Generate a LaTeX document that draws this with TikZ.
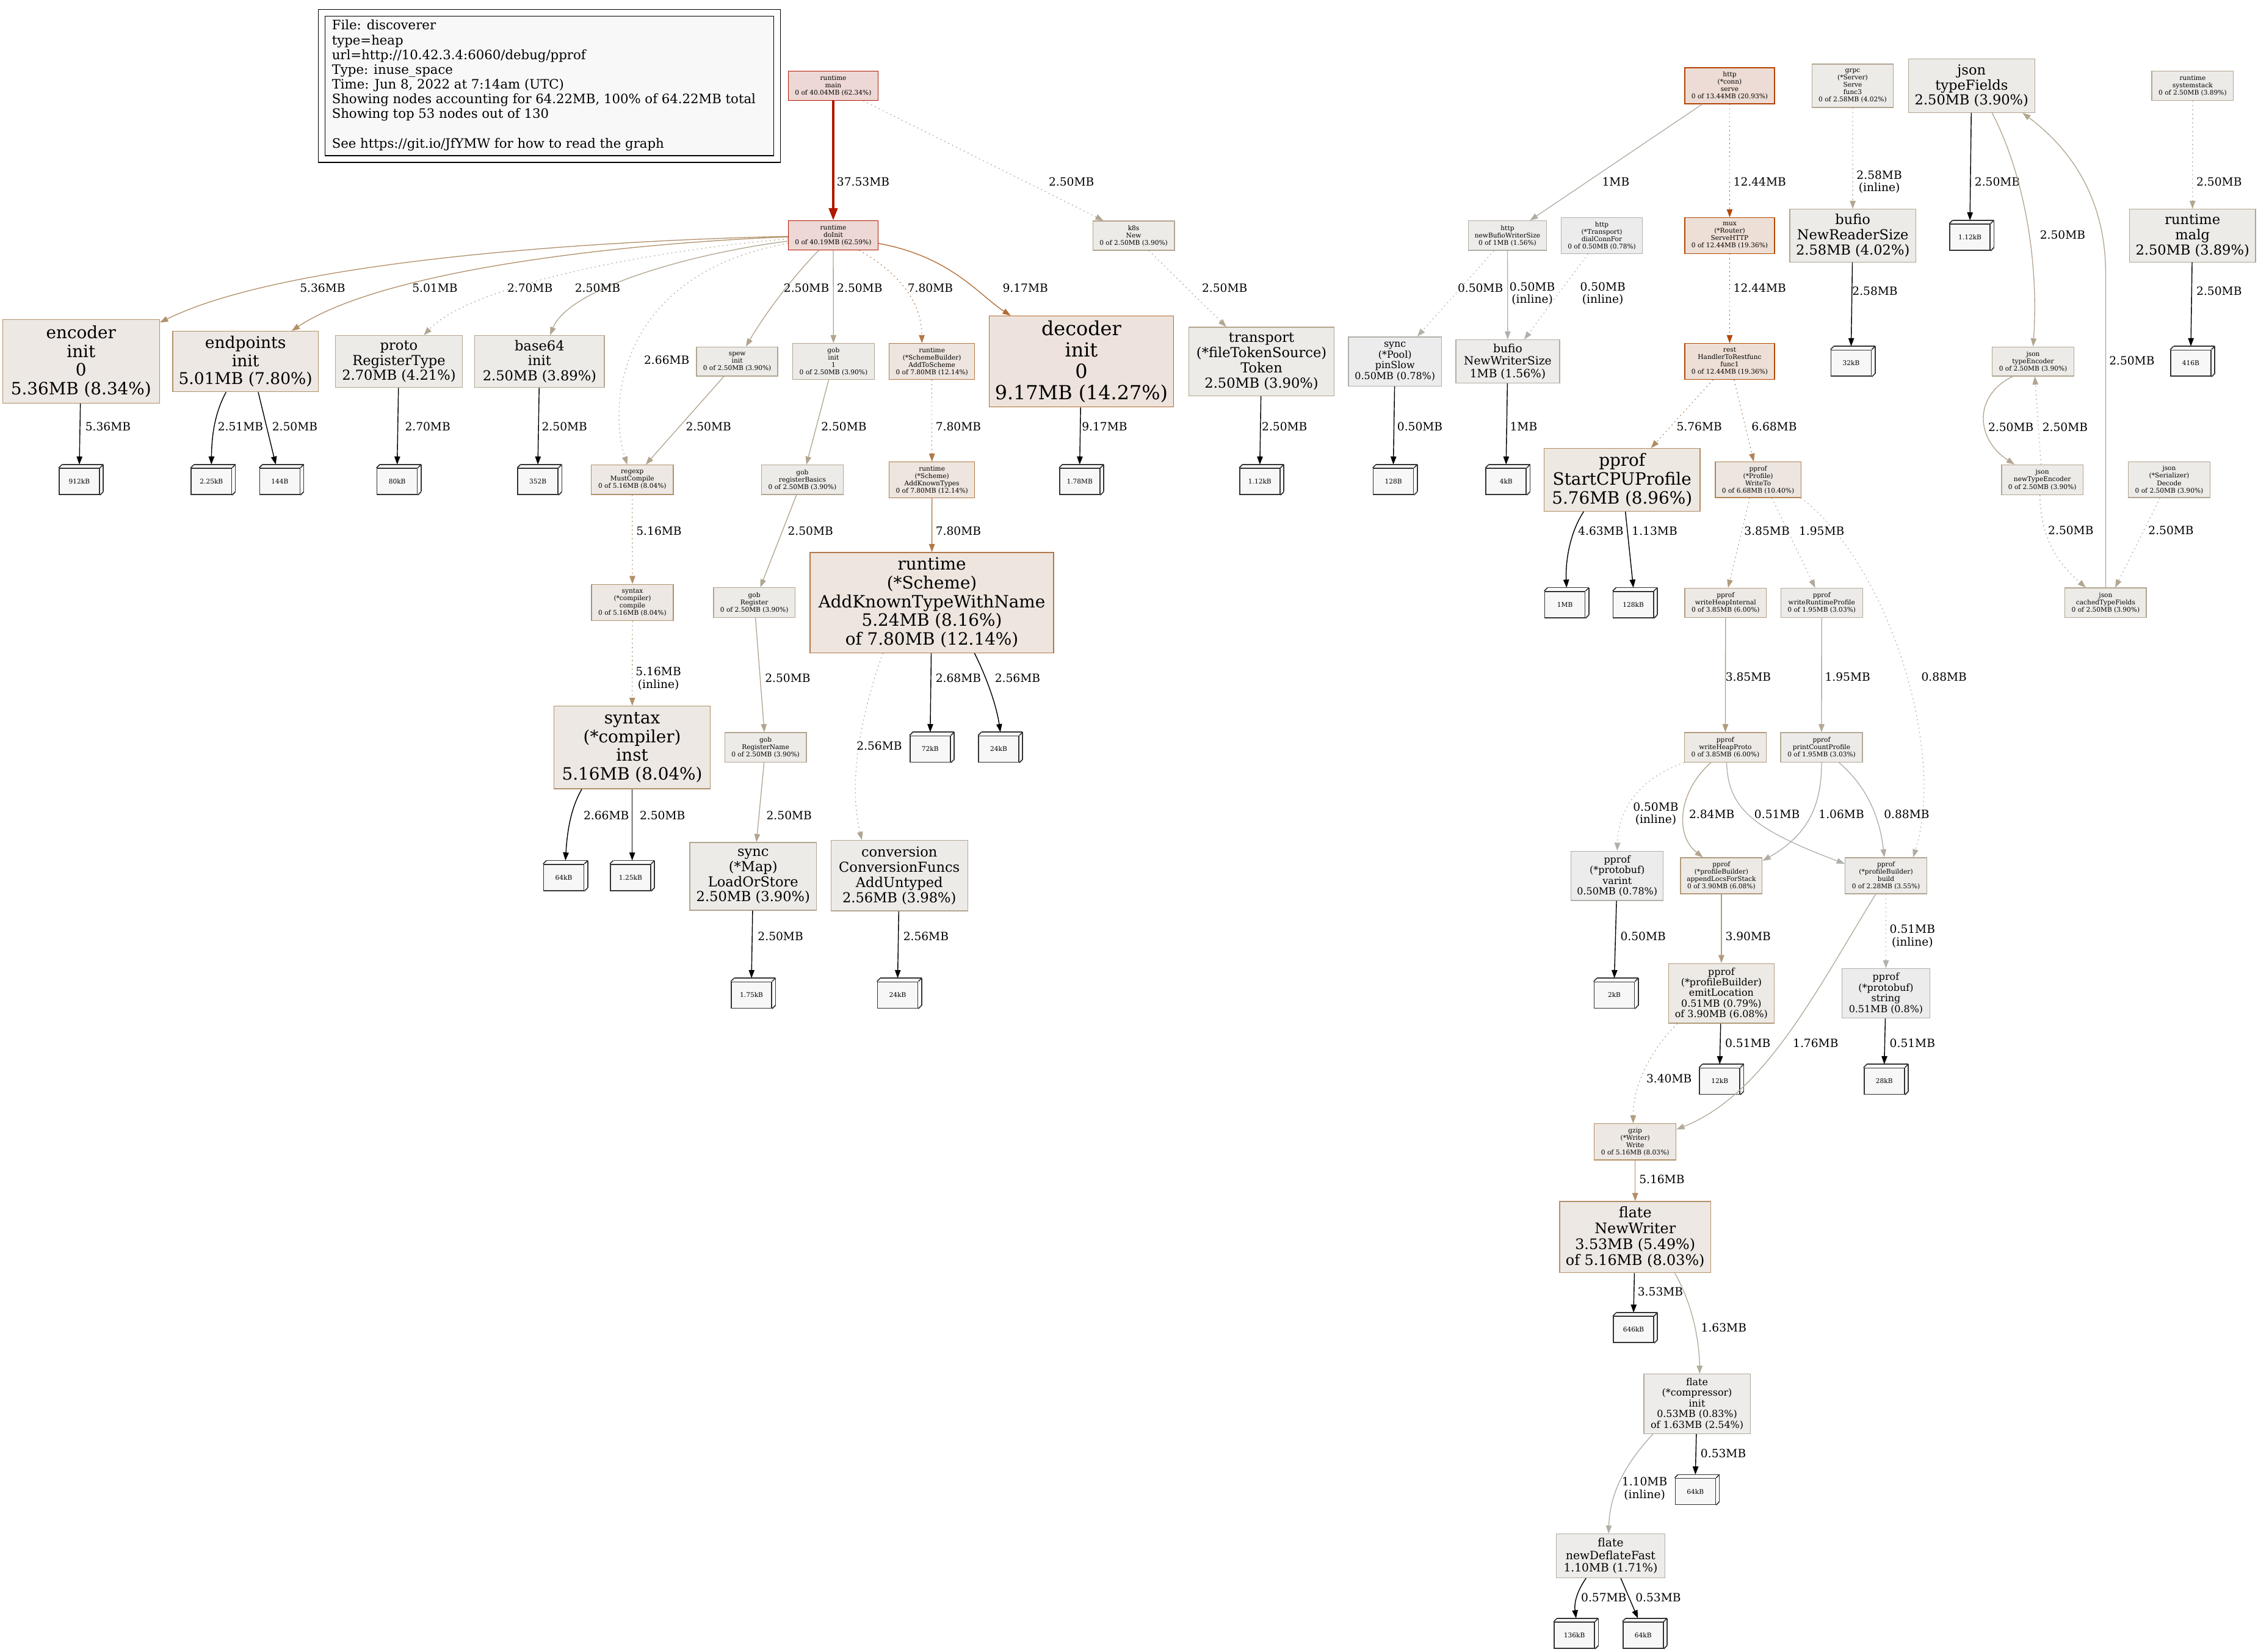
\documentclass[tikz,border=0pt]{standalone}
\usepackage{fontspec}
\setmainfont{DejaVu Serif}
\usepackage{tikz}
\usetikzlibrary{positioning}
\usetikzlibrary{shapes,arrows.meta,calc,fit}
\definecolor{cb62}{HTML}{B21700}\definecolor{cf62}{HTML}{EDD8D5}
\definecolor{cb21}{HTML}{B24200}\definecolor{cf21}{HTML}{EDDCD5}
\definecolor{cb19}{HTML}{B24805}\definecolor{cf19}{HTML}{EDDFD6}
\definecolor{cb14}{HTML}{B26B33}\definecolor{cf14}{HTML}{EDE3DC}
\definecolor{cb12}{HTML}{B27846}\definecolor{cf12}{HTML}{EDE5DE}
\definecolor{cb10}{HTML}{B28355}\definecolor{cf10}{HTML}{EDE6E0}
\definecolor{cb9}{HTML}{B28B62}\definecolor{cf9}{HTML}{EDE8E2}
\definecolor{cb8}{HTML}{B2906A}\definecolor{cf8}{HTML}{EDE8E3}
\definecolor{cb6}{HTML}{B29B7C}\definecolor{cf6}{HTML}{EDEAE6}
\definecolor{cb5}{HTML}{B29E83}
\definecolor{cb4}{HTML}{B2A58F}\definecolor{cf4}{HTML}{EDEBE8}
\definecolor{cb3}{HTML}{B2A997}\definecolor{cf3}{HTML}{EDEBE9}
\definecolor{cb27}{HTML}{B2AA9B}\definecolor{cf27}{HTML}{EDECEA}
\definecolor{cb2}{HTML}{B2ADA3}\definecolor{cf2}{HTML}{EDECEB}
\definecolor{cb1}{HTML}{B2B0AB}\definecolor{cf1}{HTML}{EDECEC}
\definecolor{cleg}{HTML}{F8F8F8}
\tikzset{
	>={Triangle[length=5.6pt,width=4pt]},
	fn/.style={draw, rectangle, inner sep=0pt, align=center, line width=0.56pt},
	sz/.style 2 args={minimum width=#1pt, minimum height=#2pt},
	f8/.style={font=\fontsize{4.5}{5.1}\selectfont},
	f12/.style={font=\fontsize{6.75}{7.4}\selectfont},
	f14/.style={font=\fontsize{7.9}{8.6}\selectfont},
	f17/.style={font=\fontsize{9.56}{10.5}\selectfont},
	f18/.style={font=\fontsize{10.1}{11.1}\selectfont},
	f20/.style={font=\fontsize{11.25}{12.4}\selectfont},
	f21/.style={font=\fontsize{11.8}{13}\selectfont},
	f24/.style={font=\fontsize{13.5}{14.85}\selectfont},
	p62/.style={draw=cb62, fill=cf62},
	p21/.style={draw=cb21, fill=cf21},
	p19/.style={draw=cb19, fill=cf19},
	p14/.style={draw=cb14, fill=cf14},
	p12/.style={draw=cb12, fill=cf12},
	p10/.style={draw=cb10, fill=cf10},
	p9/.style={draw=cb9, fill=cf9},
	p8/.style={draw=cb8, fill=cf8},
	p6/.style={draw=cb6, fill=cf6},
	p4/.style={draw=cb4, fill=cf4},
	p3/.style={draw=cb3, fill=cf3},
	p27/.style={draw=cb27, fill=cf27},
	p2/.style={draw=cb2, fill=cf2},
	p1/.style={draw=cb1, fill=cf1},
	ed/.style={->, draw=#1, line width=0.56pt},
	dt/.style={dash pattern=on 0.7pt off 2.3pt},
	heavy/.style={line width=1.7pt, -{Triangle[length=8.5pt,width=6pt]}},
	leafe/.style={->, draw=black, line width=0.6pt},
	lbl/.style={f14, inner sep=0pt, align=center},
	box3d/.style={-, draw=black!80, line width=0.7pt},
	leaf/.style={draw=black!80, fill=black!3, line width=0.7pt, inner sep=0pt,
		minimum width=28pt, minimum height=18.2pt, f8,
		append after command={\pgfextra{\let\leafnode=\tikzlastnode}
			(\leafnode.north west) edge[box3d] ([shift={(2.3pt,2.3pt)}]\leafnode.north west)
			([shift={(2.3pt,2.3pt)}]\leafnode.north west) edge[box3d] ([shift={(2.3pt,2.3pt)}]\leafnode.north east)
			([shift={(2.3pt,2.3pt)}]\leafnode.north east) edge[box3d] ([shift={(2.3pt,2.3pt)}]\leafnode.south east)
			([shift={(2.3pt,2.3pt)}]\leafnode.south east) edge[box3d] (\leafnode.south east)
			(\leafnode.north east) edge[box3d] ([shift={(2.3pt,2.3pt)}]\leafnode.north east)}},
}
\begin{document}
\begin{tikzpicture}[x=1pt, y=-1pt]
	\path[use as bounding box, fill=white] (0,0) rectangle (1568,1147);
	\node (legend) [draw=black, fill=cleg, line width=0.56pt, sz={311.6}{96.8}] at (381.5,59.7) {};
	\node (legendtext) [anchor=west, align=left, inner sep=0pt, font=\fontsize{9}{10.25}\selectfont] at (230.3,59.3) {File: discoverer\\type=heap\\url=http://10.42.3.4:6060/debug/pprof\\Type: inuse\_space\\Time: Jun 8, 2022 at 7:14am (UTC)\\Showing nodes accounting for 64.22MB, 100\% of 64.22MB total\\Showing top 53 nodes out of 130\\[10.25pt]See https://git.io/JfYMW for how to read the graph};
	\node (cluster) [draw=black, line width=0.56pt, fit=(legend), inner sep=4.4pt] {};

	\node (main) [fn, p62, f8, sz={62.2}{20.2}] at (578.6,59.6) {runtime\\main\\0 of 40.04MB (62.34\%)};
	\node (conn) [fn, p21, f8, sz={62.2}{25}] at (1201.1,59.5) {http\\(*conn)\\serve\\0 of 13.44MB (20.93\%)};
	\node (grpc) [fn, p4, f8, sz={56.6}{30.1}] at (1286.5,59.55) {grpc\\(*Server)\\Serve\\func3\\0 of 2.58MB (4.02\%)};
	\node (typeFields) [fn, p4, f17, sz={87.8}{37.1}] at (1369.1,59.55) {json\\typeFields\\2.50MB (3.90\%)};
	\node (systemstack) [fn, p4, f8, sz={56.7}{20.2}] at (1522.6,59.6) {runtime\\systemstack\\0 of 2.50MB (3.89\%)};

	\node (doInit) [fn, p62, f8, sz={62.2}{20.2}] at (578.6,163.4) {runtime\\doInit\\0 of 40.19MB (62.59\%)};
	\node (k8s) [fn, p4, f8, sz={56.7}{20.3}] at (787.2,163.6) {k8s\\New\\0 of 2.50MB (3.90\%)};
	\node (newBufio) [fn, p2, f8, sz={54.1}{20.5}] at (1046.8,163.6) {http\\newBufioWriterSize\\0 of 1MB (1.56\%)};
	\node (dialConnFor) [fn, p1, f8, sz={56.6}{24.8}] at (1112.3,163.6) {http\\(*Transport)\\dialConnFor\\0 of 0.50MB (0.78\%)};
	\node (mux) [fn, p19, f8, sz={62.2}{24.8}] at (1201.1,163.6) {mux\\(*Router)\\ServeHTTP\\0 of 12.44MB (19.36\%)};
	\node (readerSize) [fn, p4, f17, sz={87.6}{36.7}] at (1286.6,163.6) {bufio\\NewReaderSize\\2.58MB (4.02\%)};
	\node (malg) [fn, p4, f17, sz={87.7}{36.7}] at (1522.5,163.6) {runtime\\malg\\2.50MB (3.89\%)};

	\node (encoder) [fn, p8, f21, sz={109}{58}] at (56.3,251) {encoder\\init\\0\\5.36MB (8.34\%)};
	\node (endpoints) [fn, p8, f20, sz={101}{42}] at (170.5,251) {endpoints\\init\\5.01MB (7.80\%)};
	\node (proto) [fn, p4, f17, sz={88}{36}] at (277,251) {proto\\RegisterType\\2.70MB (4.21\%)};
	\node (base64) [fn, p4, f17, sz={90}{36}] at (374.7,251) {base64\\init\\2.50MB (3.89\%)};
	\node (spew) [fn, p4, f8, sz={56.4}{20.2}] at (511.9,251) {spew\\init\\0 of 2.50MB (3.90\%)};
	\node (gobinit) [fn, p4, f8, sz={56.6}{24.9}] at (578.8,251) {gob\\init\\1\\0 of 2.50MB (3.90\%)};
	\node (addToScheme) [fn, p12, f8, sz={59.3}{24.9}] at (647.15,251) {runtime\\(*SchemeBuilder)\\AddToScheme\\0 of 7.80MB (12.14\%)};
	\node (decoder) [fn, p14, f24, sz={128}{63.2}] at (750.9,251) {decoder\\init\\0\\9.17MB (14.27\%)};
	\node (transport) [fn, p4, f17, sz={101}{47.6}] at (876,251) {transport\\(*fileTokenSource)\\Token\\2.50MB (3.90\%)};
	\node (pool) [fn, p1, f12, sz={64.6}{34.1}] at (968.7,251) {sync\\(*Pool)\\pinSlow\\0.50MB (0.78\%)};
	\node (newWriterSize) [fn, p2, f14, sz={72}{30}] at (1047,251) {bufio\\NewWriterSize\\1MB (1.56\%)};
	\node (rest) [fn, p19, f8, sz={62.2}{24.9}] at (1201.1,251) {rest\\HandlerToRestfunc\\func1\\0 of 12.44MB (19.36\%)};
	\node (typeEncoder) [fn, p4, f8, sz={56.8}{20.3}] at (1411.8,251) {json\\typeEncoder\\0 of 2.50MB (3.90\%)};

	\node (regexp) [fn, p8, f8, sz={56.9}{20.5}] at (439.05,333.15) {regexp\\MustCompile\\0 of 5.16MB (8.04\%)};
	\node (registerBasics) [fn, p4, f8, sz={56.6}{20.5}] at (557.2,333.15) {gob\\registerBasics\\0 of 2.50MB (3.90\%)};
	\node (addKnownTypes) [fn, p12, f8, sz={59.3}{24.8}] at (647.15,333.2) {runtime\\(*Scheme)\\AddKnownTypes\\0 of 7.80MB (12.14\%)};
	\node (startCPU) [fn, p9, f21, sz={108.2}{43.6}] at (1126.4,333.2) {pprof\\StartCPUProfile\\5.76MB (8.96\%)};
	\node (writeTo) [fn, p10, f8, sz={59.5}{24.7}] at (1220.85,333.15) {pprof\\(*Profile)\\WriteTo\\0 of 6.68MB (10.40\%)};
	\node (newTypeEncoder) [fn, p4, f8, sz={56.5}{20.8}] at (1418.2,333.15) {json\\newTypeEncoder\\0 of 2.50MB (3.90\%)};
	\node (decode) [fn, p4, f8, sz={56.7}{24.7}] at (1506.3,333.15) {json\\(*Serializer)\\Decode\\0 of 2.50MB (3.90\%)};

	\node (compile) [fn, p8, f8, sz={56.9}{25.2}] at (439.15,418.4) {syntax\\(*compiler)\\compile\\0 of 5.16MB (8.04\%)};
	\node (register) [fn, p4, f8, sz={56.6}{20.8}] at (523.8,418.5) {gob\\Register\\0 of 2.50MB (3.90\%)};
	\node (aktwn) [fn, p12, f21, sz={169.2}{69.7}] at (647.1,418.45) {runtime\\(*Scheme)\\AddKnownTypeWithName\\5.24MB (8.16\%)\\of 7.80MB (12.14\%)};
	\node (writeHeapInternal) [fn, p6, f8, sz={56.5}{20.5}] at (1198.25,418.65) {pprof\\writeHeapInternal\\0 of 3.85MB (6.00\%)};
	\node (writeRuntimeProfile) [fn, p3, f8, sz={56.8}{20.5}] at (1265,418.65) {pprof\\writeRuntimeProfile\\0 of 1.95MB (3.03\%)};
	\node (cachedTypeFields) [fn, p4, f8, sz={56.5}{20.5}] at (1462.2,418.5) {json\\cachedTypeFields\\0 of 2.50MB (3.90\%)};

	\node (inst) [fn, p8, f21, sz={108.6}{57.4}] at (439,519) {syntax\\(*compiler)\\inst\\5.16MB (8.04\%)};
	\node (registerName) [fn, p4, f8, sz={56.6}{20.6}] at (531.6,519) {gob\\RegisterName\\0 of 2.50MB (3.90\%)};
	\node (writeHeapProto) [fn, p6, f8, sz={56.6}{20.5}] at (1198.1,518.95) {pprof\\writeHeapProto\\0 of 3.85MB (6.00\%)};
	\node (printCountProfile) [fn, p3, f8, sz={56.8}{20.5}] at (1264.9,518.95) {pprof\\printCountProfile\\0 of 1.95MB (3.03\%)};

	\node (syncMap) [fn, p4, f17, sz={88}{47}] at (523,608.5) {sync\\(*Map)\\LoadOrStore\\2.50MB (3.90\%)};
	\node (conversion) [fn, p4, f17, sz={95}{49}] at (624.5,608) {conversion\\ConversionFuncs\\AddUntyped\\2.56MB (3.98\%)};
	\node (varint) [fn, p1, f12, sz={64}{34.3}] at (1123,608.15) {pprof\\(*protobuf)\\varint\\0.50MB (0.78\%)};
	\node (appendLocs) [fn, p6, f8, sz={56.7}{25}] at (1195.35,608.1) {pprof\\(*profileBuilder)\\appendLocsForStack\\0 of 3.90MB (6.08\%)};
	\node (build) [fn, p4, f8, sz={56.7}{25}] at (1309.65,608.1) {pprof\\(*profileBuilder)\\build\\0 of 2.28MB (3.55\%)};

	\node (emitLocation) [fn, p6, f12, sz={73.5}{41.5}] at (1195.35,689.75) {pprof\\(*profileBuilder)\\emitLocation\\0.51MB (0.79\%)\\of 3.90MB (6.08\%)};
	\node (string) [fn, p1, f12, sz={60.8}{34.2}] at (1309.6,689.7) {pprof\\(*protobuf)\\string\\0.51MB (0.8\%)};
	\node (gzip) [fn, p8, f8, sz={56.8}{25.1}] at (1135.5,792.85) {gzip\\(*Writer)\\Write\\0 of 5.16MB (8.03\%)};
	\node (newWriter) [fn, p8, f18, sz={105}{49.5}] at (1135.5,859) {flate\\NewWriter\\3.53MB (5.49\%)\\of 5.16MB (8.03\%)};
	\node (compressor) [fn, p27, f12, sz={73.9}{41.4}] at (1178.45,974.8) {flate\\(*compressor)\\init\\0.53MB (0.83\%)\\of 1.63MB (2.54\%)};
	\node (deflateFast) [fn, p2, f14, sz={75.7}{30.4}] at (1118.45,1080.3) {flate\\newDeflateFast\\1.10MB (1.71\%)};

	\node (L912) [leaf] at (55.1,334.3) {912kB};
	\node (L225) [leaf] at (146.8,334.3) {2.25kB};
	\node (L144) [leaf] at (194.3,334.3) {144B};
	\node (L80) [leaf] at (275.8,334.3) {80kB};
	\node (L352) [leaf] at (373.5,334.3) {352B};
	\node (L178) [leaf] at (749.75,334.3) {1.78MB};
	\node (L112a) [leaf] at (874.85,334.3) {1.12kB};
	\node (L128B) [leaf] at (967.55,334.3) {128B};
	\node (L4kB) [leaf] at (1045.85,334.3) {4kB};
	\node (L32kB) [leaf] at (1285.45,252.15) {32kB};
	\node (L112b) [leaf] at (1367.95,164.75) {1.12kB};
	\node (L416B) [leaf] at (1521.35,252.15) {416B};
	\node (L1MB) [leaf] at (1086.7,419.8) {1MB};
	\node (L128kB) [leaf] at (1134.2,419.8) {128kB};
	\node (L72kB) [leaf] at (645.95,520.1) {72kB};
	\node (L24kBa) [leaf] at (693.5,520.1) {24kB};
	\node (L64kBa) [leaf] at (391.5,609.25) {64kB};
	\node (L125) [leaf] at (437.85,609.25) {1.25kB};
	\node (L175) [leaf] at (521.85,690.9) {1.75kB};
	\node (L24kBb) [leaf] at (623.35,690.9) {24kB};
	\node (L2kB) [leaf] at (1121,690.9) {2kB};
	\node (L12kB) [leaf] at (1194.2,750.7) {12kB};
	\node (L28kB) [leaf] at (1308.45,750.7) {28kB};
	\node (L646kB) [leaf] at (1134.35,923.15) {646kB};
	\node (L64kBb) [leaf] at (1177.3,1035.6) {64kB};
	\node (L136kB) [leaf] at (1093.3,1135.4) {136kB};
	\node (L64kBc) [leaf] at (1141,1135.4) {64kB};

	\draw[ed=cb62, heavy] (main) -- (doInit) node (t1) [lbl] at (599.4,126) {37.53MB};
	\draw[ed=cb4, dt] (main) -- (k8s) node (t2) [lbl] at (744,126) {2.50MB};
	\draw[ed=cb8] (doInit) .. controls (420,167) and (200,180) .. (encoder) node (t3) [lbl] at (224,200) {5.36MB};
	\draw[ed=cb8] (doInit) .. controls (450,168) and (270,185) .. (endpoints) node (t4) [lbl] at (302,200) {5.01MB};
	\draw[ed=cb4, dt] (doInit) .. controls (470,172) and (330,195) .. (proto) node (t5) [lbl] at (368,200) {2.70MB};
	\draw[ed=cb4] (doInit) .. controls (480,176) and (395,200) .. (base64) node (t6) [lbl] at (415,200) {2.50MB};
	\draw[ed=cb4, dt] (doInit) .. controls (430,190) and (422,280) .. ([xshift=-3.5pt]regexp.north) node (t7) [lbl] at (463,250) {2.66MB};
	\draw[ed=cb4] (doInit) .. controls (548,195) and (530,220) .. (spew) node (t8) [lbl] at (560,200) {2.50MB};
	\draw[ed=cb4] (doInit) -- (gobinit) node (t9) [lbl] at (597,200) {2.50MB};
	\draw[ed=cb12, dt] (doInit) .. controls (625,190) and (640,210) .. ([xshift=-7pt]addToScheme.north) node (t10) [lbl] at (646,200) {7.80MB};
	\draw[ed=cb14] (doInit) .. controls (660,178) and (680,205) .. (decoder) node (t11) [lbl] at (712,200) {9.17MB};
	\draw[ed=cb4, dt] (k8s) -- (transport) node (t12) [lbl] at (850.4,200) {2.50MB};
	\draw[leafe] (transport) -- ([yshift=2.3pt]L112a.north) node (t13) [lbl] at (892,296) {2.50MB};

	\draw[ed=cb2] (conn) -- (newBufio) node (t14) [lbl] at (1122,126) {1MB};
	\draw[ed=cb19, dt] (conn) -- (mux) node (t15) [lbl] at (1222,126) {12.44MB};
	\draw[ed=cb19, dt] (mux) -- (rest) node (t16) [lbl] at (1222,200) {12.44MB};
	\draw[ed=cb1, dt] (newBufio) -- (pool) node (t17) [lbl] at (1028,200) {0.50MB};
	\draw[ed=cb1] (newBufio) -- (newWriterSize) node (t18) [lbl] at (1064,204) {0.50MB\\(inline)};
	\draw[ed=cb1, dt] (dialConnFor) -- (newWriterSize) node (t19) [lbl] at (1113,204) {0.50MB\\(inline)};
	\draw[leafe] (pool) -- ([yshift=2.3pt]L128B.north) node (t20) [lbl] at (986,296) {0.50MB};
	\draw[leafe] (newWriterSize) -- ([yshift=2.3pt]L4kB.north) node (t21) [lbl] at (1058,296) {1MB};

	\draw[ed=cb4, dt] (grpc) -- (readerSize) node (t22) [lbl] at (1305,126.3) {2.58MB\\(inline)};
	\draw[leafe] (readerSize) -- ([yshift=2.3pt]L32kB.north) node (t23) [lbl] at (1302,202) {2.58MB};
	\draw[leafe] (typeFields) -- ([yshift=2.3pt]L112b.north) node (t24) [lbl] at (1387,126) {2.50MB};
	\draw[ed=cb4] ([xshift=14.2pt]typeFields.south) .. controls (1405,120) and (1416,180) .. (typeEncoder.north) node (t25) [lbl] at (1432.3,163.2) {2.50MB};
	\draw[ed=cb4] (cachedTypeFields.north) -- (1462.2,190) .. controls (1462.2,140) and (1440,105) .. ([xshift=35.4pt]typeFields.south) node (t26) [lbl] at (1480.4,250.3) {2.50MB};
	\draw[ed=cb4, dt] (systemstack) -- (malg) node (t27) [lbl] at (1541,126) {2.50MB};
	\draw[leafe] (malg) -- ([yshift=2.3pt]L416B.north) node (t28) [lbl] at (1541,202) {2.50MB};
	\draw[ed=cb4] ([xshift=-14.3pt]typeEncoder.south) .. controls (1370,275) and (1372,305) .. ([xshift=-19.3pt]newTypeEncoder.north) node (t29) [lbl] at (1396.4,296.4) {2.50MB};
	\draw[ed=cb4, dt] ([xshift=-0.9pt]newTypeEncoder.north) -- ([xshift=1.2pt]typeEncoder.south) node (t30) [lbl] at (1434,296.4) {2.50MB};
	\draw[ed=cb4, dt] ([xshift=-1.7pt]newTypeEncoder.south) .. controls (1417,375) and (1430,392) .. ([xshift=-13.8pt]cachedTypeFields.north) node (t31) [lbl] at (1438,368.4) {2.50MB};
	\draw[ed=cb4, dt] ([xshift=-6.4pt]decode.south) -- ([xshift=6.6pt]cachedTypeFields.north) node (t32) [lbl] at (1507.6,368.4) {2.50MB};

	\draw[leafe] (encoder) -- ([yshift=2.3pt]L912.north) node (t33) [lbl] at (75,296) {5.36MB};
	\draw[leafe] ([xshift=-13.5pt]endpoints.south) .. controls (150,285) and (147,300) .. ([yshift=2.3pt]L225.north) node (t34) [lbl] at (167,296) {2.51MB};
	\draw[leafe] ([xshift=8.8pt]endpoints.south) -- ([xshift=-2.8pt,yshift=2.3pt]L144.north) node (t35) [lbl] at (204.7,296) {2.50MB};
	\draw[leafe] (proto) -- ([yshift=2.3pt]L80.north) node (t36) [lbl] at (297,296) {2.70MB};
	\draw[leafe] (base64) -- ([yshift=2.3pt]L352.north) node (t37) [lbl] at (392,296) {2.50MB};
	\draw[ed=cb4] (spew) -- (regexp) node (t38) [lbl] at (492,296.3) {2.50MB};
	\draw[ed=cb4] (gobinit) -- (registerBasics) node (t39) [lbl] at (586,296.3) {2.50MB};
	\draw[ed=cb12, dt] (addToScheme) -- (addKnownTypes) node (t40) [lbl] at (665.5,296.3) {7.80MB};
	\draw[leafe] (decoder) -- ([yshift=2.3pt]L178.north) node (t41) [lbl] at (767,296) {9.17MB};
	\draw[ed=cb9, dt] (rest) -- (startCPU) node (t42) [lbl] at (1180,296) {5.76MB};
	\draw[ed=cb10, dt] (rest) -- (writeTo) node (t43) [lbl] at (1232,296) {6.68MB};

	\draw[ed=cb8, dt] (regexp) -- (compile) node (t44) [lbl] at (457.6,368.8) {5.16MB};
	\draw[ed=cb4] (registerBasics) -- (register) node (t45) [lbl] at (562.8,368.8) {2.50MB};
	\draw[ed=cb12] (addKnownTypes) -- (aktwn) node (t46) [lbl] at (665.5,368.8) {7.80MB};
	\draw[leafe] ([xshift=-26.7pt]startCPU.south) .. controls (1090,370) and (1087,390) .. ([xshift=1.15pt,yshift=2.3pt]L1MB.north) node (t47) [lbl] at (1111.6,368.5) {4.63MB};
	\draw[leafe] ([xshift=2.3pt]startCPU.south) -- ([yshift=2.3pt]L128kB.north) node (t48) [lbl] at (1149,368.5) {1.13MB};
	\draw[ed=cb6, dt] ([xshift=-5.75pt]writeTo.south) -- ([xshift=1.75pt]writeHeapInternal.north) node (t49) [lbl] at (1227,368.5) {3.85MB};
	\draw[ed=cb3, dt] ([xshift=9.45pt]writeTo.south) -- ([xshift=-4.5pt]writeRuntimeProfile.north) node (t50) [lbl] at (1265,368.5) {1.95MB};
	\draw[ed=cb2, dt] ([xshift=29.7pt]writeTo.south) .. controls (1310,390) and (1352,520) .. ([xshift=18.85pt]build.north) node (t51) [lbl] at (1350,470) {0.88MB};

	\draw[ed=cb8, dt] (compile) -- (inst) node (t52) [lbl] at (457.2,471.2) {5.16MB\\(inline)};
	\draw[ed=cb4] (register) -- (registerName) node (t53) [lbl] at (547,471) {2.50MB};
	\draw[leafe] (aktwn) -- ([yshift=2.3pt]L72kB.north) node (t54) [lbl] at (665.5,471) {2.68MB};
	\draw[leafe] ([xshift=29.6pt]aktwn.south) .. controls (685,470) and (692,490) .. ([xshift=1.15pt,yshift=2.3pt]L24kBa.north) node (t55) [lbl] at (706.6,471) {2.56MB};
	\draw[ed=cb4, dt] ([xshift=-34pt]aktwn.south) .. controls (600,490) and (588,540) .. ([xshift=-26pt]conversion.north) node (t56) [lbl] at (610.6,517.9) {2.56MB};
	\draw[ed=cb6] (writeHeapInternal) -- (writeHeapProto) node (t57) [lbl] at (1214,470) {3.85MB};
	\draw[ed=cb3] (writeRuntimeProfile) -- (printCountProfile) node (t58) [lbl] at (1283,470) {1.95MB};

	\draw[leafe] ([xshift=-35pt]inst.south) .. controls (397,560) and (394,575) .. ([xshift=1.15pt,yshift=2.3pt]L64kBa.north) node (t59) [lbl] at (421,566) {2.66MB};
	\draw[leafe] (inst) -- ([xshift=1.15pt,yshift=2.3pt]L125.north) node (t60) [lbl] at (460,566) {2.50MB};
	\draw[ed=cb4] (registerName) -- (syncMap) node (t61) [lbl] at (548,566) {2.50MB};
	\draw[ed=cb1, dt] (writeHeapProto.south west) .. controls (1140,540) and (1124,560) .. (varint.north) node (t62) [lbl] at (1149.8,565.2) {0.50MB\\(inline)};
	\draw[ed=cb4] ([xshift=-10pt]writeHeapProto.south) .. controls (1165,550) and (1163,580) .. ([xshift=-12.85pt]appendLocs.north) node (t63) [lbl] at (1188.7,565.2) {2.84MB};
	\draw[ed=cb1] ([xshift=0.9pt]writeHeapProto.south) .. controls (1200,560) and (1215,575) .. ([yshift=-4.4pt]build.north west) node (t64) [lbl] at (1234,565.2) {0.51MB};
	\draw[ed=cb2] (printCountProfile.south) .. controls (1265,560) and (1255,580) .. ([yshift=-2.4pt]appendLocs.north east) node (t65) [lbl] at (1278.7,565.2) {1.06MB};
	\draw[ed=cb2] ([xshift=12.1pt]printCountProfile.south) .. controls (1295,545) and (1305,565) .. ([xshift=-1.15pt]build.north) node (t66) [lbl] at (1324,565.2) {0.88MB};

	\draw[leafe] (syncMap) -- ([yshift=2.3pt]L175.north) node (t67) [lbl] at (542,650) {2.50MB};
	\draw[leafe] (conversion) -- ([yshift=2.3pt]L24kBb.north) node (t68) [lbl] at (643,650) {2.56MB};
	\draw[leafe] (varint) -- ([yshift=2.3pt]L2kB.north) node (t69) [lbl] at (1141,650) {0.50MB};
	\draw[ed=cb6] (appendLocs) -- (emitLocation) node (t70) [lbl] at (1213.9,650) {3.90MB};
	\draw[ed=cb1, dt] (build) -- (string) node (t71) [lbl] at (1328,650) {0.51MB\\(inline)};
	\draw[ed=cb27] ([xshift=-7.15pt]build.south) .. controls (1260,690) and (1225,760) .. ([yshift=8.65pt]gzip.east) node (t72) [lbl] at (1260.8,724.2) {1.76MB};

	\draw[leafe] (emitLocation) -- ([yshift=2.3pt]L12kB.north) node (t73) [lbl] at (1213.7,724.2) {0.51MB};
	\draw[leafe] (string) -- ([yshift=2.3pt]L28kB.north) node (t74) [lbl] at (1328,724.2) {0.51MB};
	\draw[ed=cb5, dt] ([xshift=-30.55pt]emitLocation.south) .. controls (1145,730) and (1134,755) .. ([xshift=-1.4pt]gzip.north) node (t75) [lbl] at (1159,748.9) {3.40MB};
	\draw[ed=cb8] (gzip) -- (newWriter) node (t76) [lbl] at (1154,818.9) {5.16MB};
	\draw[leafe] (newWriter) -- ([yshift=2.3pt]L646kB.north) node (t77) [lbl] at (1153,897) {3.53MB};
	\draw[ed=cb27] ([xshift=27.5pt]newWriter.south) .. controls (1175,905) and (1180,930) .. ([xshift=1.85pt]compressor.north) node (t78) [lbl] at (1197,922) {1.63MB};
	\draw[leafe] (compressor) -- ([yshift=2.3pt]L64kBb.north) node (t79) [lbl] at (1196.7,1009) {0.53MB};
	\draw[ed=cb2] ([xshift=-30.65pt]compressor.south) .. controls (1130,1015) and (1118,1035) .. ([xshift=-1.45pt]deflateFast.north) node (t80) [lbl] at (1142,1033.7) {1.10MB\\(inline)};
	\draw[leafe] ([xshift=-17.05pt]deflateFast.south) .. controls (1095,1105) and (1093,1113) .. ([xshift=1.15pt,yshift=2.3pt]L136kB.north) node (t81) [lbl] at (1113.7,1109.3) {0.57MB};
	\draw[leafe] ([xshift=7pt]deflateFast.south) -- ([xshift=-3.6pt,yshift=2.3pt]L64kBc.north) node (t82) [lbl] at (1151.5,1109.3) {0.53MB};
\end{tikzpicture}
\end{document}
